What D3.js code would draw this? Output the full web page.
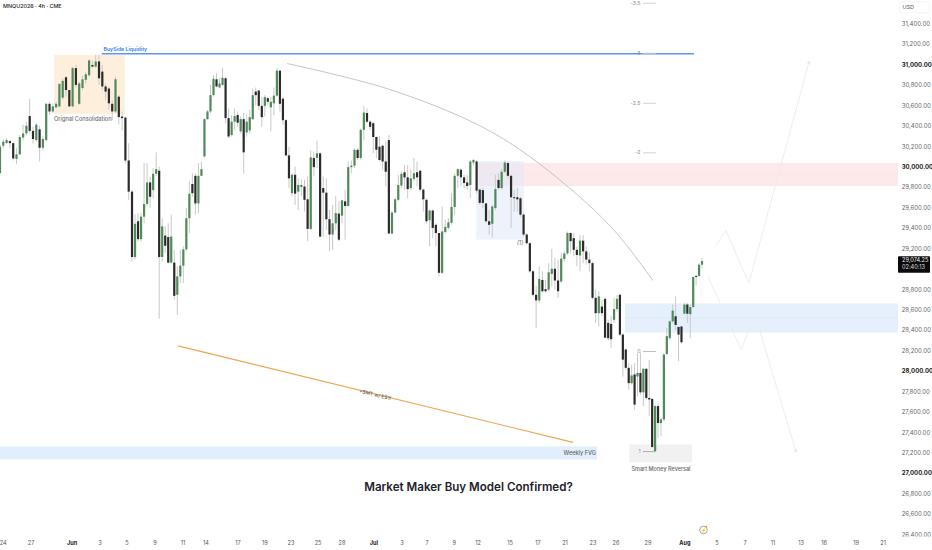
<!DOCTYPE html>
<html><head><meta charset="utf-8">
<script src="https://cdn.jsdelivr.net/npm/d3@7"></script>
<style>html,body{margin:0;padding:0;background:#fff}svg{display:block}</style>
</head><body><svg id="c" width="932" height="550"></svg>
<script>
const chartSymbol = "MNQU2026 · 4h · CME";
const chartTitle = "Market Maker Buy Model Confirmed?";
const priceTicks = [31400,31200,31000,30800,30600,30400,30200,30000,29800,29600,29400,29200,28800,28600,28400,28200,28000,27800,27600,27400,27200,27000,26800,26600,26400];
const boldPrices = [31000,30000,28000,27000];
const dateLabels = ["24","27","Jun","3","5","9","11","14","17","19","23","25","28","Jul","3","7","9","12","15","17","21","23","26","29","Aug","5","7","11","13","16","19","21"];
const dateBars = [1.03,10,23.2,32.2,40.9,49.9,58.9,66.3,76.6,85.3,93.7,102.4,110.1,120.4,129.4,137.5,146.2,153.9,164.2,173.2,181.9,190.9,198.3,208.6,220.5,230.8,239.9,248.9,257.9,265.3,275.6,284.3];
const lastPrice = "29,074.25", lastPriceValue = 29074.25, countdown = "02:40:13";
// [open, high, low, close]
const candleOHLC = [
[29935,30215,29935,30195],[30205,30270,30180,30245],[30230,30280,30225,30260],[30250,30260,30180,30230],[30230,30235,30060,30080],[30075,30180,30025,30120],[30120,30310,30115,30290],[30285,30410,30260,30325],[30325,30440,30310,30400],[30495,30665,30325,30350],
[30350,30390,30225,30270],[30260,30425,30245,30410],[30365,30400,30050,30185],[30185,30295,30155,30270],[30260,30625,30245,30615],[30615,30635,30505,30540],[30540,30620,30525,30590],[30580,30635,30570,30615],[30590,30815,30580,30810],[30675,30865,30655,30840],
[30875,30890,30685,30750],[30750,30755,30580,30590],[30590,30980,30580,30965],[30965,30995,30775,30800],[30615,30830,30605,30815],[30770,30890,30750,30855],[30850,30930,30815,30905],[30895,31050,30880,31040],[30995,31040,30965,30980],[30980,31095,30965,31030],
[31030,31095,30800,30865],[30930,30995,30750,30785],[30785,30815,30655,30735],[30765,30785,30555,30620],[30615,30655,30455,30540],[30540,30880,30525,30855],[30685,30700,30410,30485],[30490,30540,30355,30475],[30480,30490,30035,30060],[30060,30230,29675,29755],
[29755,29775,29070,29115],[29115,29530,29090,29440],[29465,29545,29265,29290],[29290,29545,29265,29510],[29510,30035,29445,29635],[29635,30035,29610,29845],[29845,29905,29595,29705],[29770,29985,29690,29930],[29930,30140,29905,29975],[29960,30000,28510,29115],
[29115,29495,29070,29415],[29325,29415,29155,29225],[29310,29445,29055,29060],[29060,29530,29055,29315],[29060,29185,28695,28735],[28745,29025,28550,28925],[28925,29185,28860,29030],[29030,29220,28860,29190],[29190,29595,29170,29495],[29495,29855,29350,29735],
[29830,29935,29705,29740],[29910,29935,29530,29640],[29640,30035,29545,29910],[29910,30050,29905,29975],[30100,30475,30090,30465],[30465,30555,30455,30540],[30540,30800,30525,30700],[30700,30895,30685,30860],[30855,30915,30775,30785],[30775,30865,30765,30815],
[30800,30970,30790,30870],[30865,30880,30425,30475],[30475,30570,30280,30295],[30310,30505,30295,30440],[30440,30570,30360,30495],[30505,30540,30390,30430],[30345,30490,30325,30465],[30465,30525,29930,30140],[30335,30505,30295,30440],[30355,30555,30325,30485],
[30465,30765,30455,30700],[30735,30775,30605,30700],[30745,30750,30555,30595],[30595,30685,30390,30485],[30595,30700,30490,30680],[30670,30685,30605,30635],[30580,30685,30345,30635],[30620,30775,30505,30695],[30695,30965,30685,30940],[30940,30945,30540,30615],
[30665,30685,30410,30455],[30455,30465,30100,30110],[30110,30195,29790,29885],[29740,29935,29710,29920],[29920,30000,29625,29735],[29755,29885,29575,29820],[29800,29875,29710,29820],[29805,29870,29560,29675],[29680,29905,29270,29390],[29390,30160,29380,30090],
[30085,30150,29905,29995],[30085,30255,29985,30130],[30130,30140,29310,29315],[29790,29905,29315,29745],[29745,29885,29380,29485],[29485,29575,29170,29335],[29335,29625,29185,29445],[29445,29715,29380,29545],[29540,29660,29270,29285],[29520,29675,29445,29670],
[29660,29775,29285,29615],[29615,30050,29610,29995],[29995,30060,29935,30010],[30010,30180,29985,30165],[30165,30180,30065,30085],[30085,30375,30065,30360],[30360,30595,30260,30530],[30525,30570,30425,30440],[30440,30455,30360,30390],[30425,30440,30130,30290],
[30290,30295,30085,30165],[30195,30295,30050,30065],[30205,30215,29970,30050],[30050,30245,29805,29950],[30260,30310,29340,29345],[29345,29565,29335,29550],[29550,29700,29545,29680],[29675,29920,29660,29820],[29815,29950,29790,29930],[29945,30015,29775,29895],
[29895,30015,29690,29780],[29790,29970,29775,29885],[29880,30085,29855,29935],[29945,30050,29805,29895],[29960,29970,29755,29775],[29775,29785,29560,29680],[29675,29690,29445,29465],[29475,29580,29220,29570],[29570,29580,29300,29400],[29430,29445,29220,29350],
[29350,29350,28925,28960],[28960,29610,28950,29365],[29360,29480,29345,29410],[29400,29495,29380,29455],[29450,29740,29430,29605],[29605,29930,29530,29910],[29910,29985,29790,29975],[29970,29985,29805,29895],[29895,29920,29790,29840],[29845,29920,29775,29810],
[29820,30065,29690,30050],[30040,30075,30015,30065],[30050,30065,29740,29765],[29775,29790,29625,29645],[29770,29790,29595,29645],[29640,29645,29445,29465],[29465,29575,29335,29430],[29440,29625,29305,29610],[29595,29920,29575,29780],[29870,29935,29775,29790],
[29790,29975,29775,29950],[29950,30060,29935,30040],[30035,30050,29885,29910],[29910,29920,29400,29700],[29700,29775,29560,29690],[29700,29790,29560,29680],[29690,29705,29510,29530],[29530,29545,29315,29335],[29335,29350,29235,29250],[29250,29260,28960,28975],
[28975,28990,28730,28745],[28745,28830,28420,28690],[28690,29025,28665,28900],[28890,28975,28765,28780],[28800,28890,28765,28780],[28795,29055,28780,28965],[28950,29195,28830,29000],[29000,29105,28795,28885],[28885,29090,28715,28780],[28875,29155,28860,29100],
[29095,29170,29070,29150],[29150,29365,29135,29350],[29350,29355,29150,29270],[29300,29350,29120,29185],[29185,29220,29025,29135],[29130,29330,28975,29275],[29275,29330,29055,29170],[29170,29220,29040,29090],[29090,29155,28975,29055],[29055,29070,28700,28715],
[28715,28795,28470,28565],[28565,28780,28435,28730],[28630,28695,28535,28565],[28705,28725,28320,28325],[28470,28500,28300,28320],[28460,28535,28225,28310],[28500,28715,28470,28605],[28605,28745,28580,28705],[28745,28760,28340,28355],[28355,28370,27945,28110],
[28210,28215,28010,28030],[28030,28075,27815,27880],[27880,28060,27865,27955],[27965,28075,27620,27670],[27945,28175,27750,27980],[27980,28180,27765,27790],[27790,28030,27655,28020],[28020,28030,27720,27735],[27735,28105,27555,27720],[27725,27735,27245,27255],
[27215,27670,27205,27655],[27655,27685,27345,27490],[27490,27540,27360,27525],[27525,28175,27505,28160],[28165,28420,28160,28340],[28320,28500,28305,28485],[28485,28650,28470,28590],[28535,28730,28400,28450],[28430,28435,28095,28355],[28435,28440,28265,28280],
[28560,28665,28550,28650],[28650,28665,28470,28560],[28555,28650,28320,28625],[28625,28925,28615,28920],[28930,28940,28835,28920],[28930,29055,28920,29040],[29040,29105,29005,29075]
];
// annotations, in [session bar, price]
const fibLevels = ["-3.5","-3","-2.5","-2","0","1"];
const fibPrices = [31600,31110,30620,30135,28190,27210];
const consolidationZone = [17.4,40.2,31093,30516];
const redZone = [153.3,289.1,30035,29810];
const redMid = 29925;
const blueZone = [201.2,289.1,28660,28375];
const blueMid = 28520;
const purpleZone = [153.3,168.7,30055,29285];
const weeklyFvg = [-1,192.2,27260,27132];
const reversalZone = [202.6,222.8,27280,27105];
const liquidityLine = [32.8,223.4,31105];
const smtLine = [[57.3,28245],[184.5,27300]];
const arcPoints = [[92.4,31010],[125,30760],[154.5,30400],[172.9,30045],[196.4,29420],[210.2,28885]];
const upForecast = [[230.2,29215],[233.7,29375],[241.1,28860],[260.5,31030]];
const downForecast = [[227.9,28925],[238.6,28210],[243.1,28545],[256.3,27205]];
const candleBarStops = [0,40,93,125,194,226];
const candleTimeStops = [0,42.5,94,126.2,195.8,226];

const W=932,H=550;
const x=d3.scaleLinear().domain([0,226]).range([0,702]);
const xc=d3.scaleLinear().domain(candleBarStops).range(candleTimeStops.map(x));
const y=d3.scaleLinear().domain([31000,27000]).range([64.5,473]);
const svg=d3.select("#c");
const font="Inter, Roboto, sans-serif";
const rect=(z,fill,op)=>svg.append("rect").attr("x",x(z[0])).attr("width",x(z[1])-x(z[0])).attr("y",y(z[2])).attr("height",y(z[3])-y(z[2])).attr("fill",fill).attr("opacity",op||1);
const text=(t,px,py,size,fill,opts={})=>svg.append("text").text(t).attr("x",px).attr("y",py).attr("font-family",font).attr("font-size",size).attr("fill",fill).attr("font-weight",opts.w||400).attr("text-anchor",opts.a||"start").attr("font-style",opts.i||"normal").attr("dominant-baseline","middle");

rect(redZone,"#fde9ea");
svg.append("line").attr("x1",x(redZone[0])).attr("x2",x(redZone[1])).attr("y1",y(redMid)).attr("y2",y(redMid)).attr("stroke","#fbe2e3").attr("stroke-width",.7);
rect(blueZone,"#e6f0fc");
svg.append("line").attr("x1",x(blueZone[0])).attr("x2",x(blueZone[1])).attr("y1",y(blueMid)).attr("y2",y(blueMid)).attr("stroke","#dbe7f8").attr("stroke-width",.7);
rect(purpleZone,"#e0e7f6",.55);
rect(consolidationZone,"#fdefdc");
rect(weeklyFvg,"#e2eefc");
rect(reversalZone,"#f1f1f1");

// candles
const gs=svg.append("g");
gs.selectAll("line").data(candleOHLC).join("line")
 .attr("x1",(d,i)=>xc(i)).attr("x2",(d,i)=>xc(i)).attr("y1",d=>y(d[1])).attr("y2",d=>y(d[2]))
 .attr("stroke","#c9c9c9").attr("stroke-width",1);
const bw=2.2;
gs.selectAll("rect").data(candleOHLC).join("rect")
 .attr("x",(d,i)=>xc(i)-bw/2).attr("width",bw)
 .attr("y",d=>y(Math.max(d[0],d[3]))).attr("height",d=>Math.max(.8,Math.abs(y(d[0])-y(d[3]))))
 .attr("fill",d=>d[3]>=d[0]?"#4f8a5a":"#2b2b2b");

// liquidity line
svg.append("line").attr("x1",x(liquidityLine[0])).attr("x2",x(liquidityLine[1])).attr("y1",y(liquidityLine[2])).attr("y2",y(liquidityLine[2])).attr("stroke","#5b97f5").attr("stroke-width",1.4);
text("BuySide Liquidity",103.5,49.7,5.2,"#3b7ded",{w:600});
text("Orignal Consolidation",54,119,5.6,"#707070",{w:500});

// arc
svg.append("path").attr("d",d3.line().x(d=>x(d[0])).y(d=>y(d[1])).curve(d3.curveCatmullRom)(arcPoints)).attr("fill","none").attr("stroke","#bdbdbd").attr("stroke-width",.9);

// orange line
svg.append("line").attr("x1",x(smtLine[0][0])).attr("y1",y(smtLine[0][1])).attr("x2",x(smtLine[1][0])).attr("y2",y(smtLine[1][1])).attr("stroke","#eea54a").attr("stroke-width",1.1);
svg.append("text").text("+SMT w/ ES1!").attr("transform","translate(375,395) rotate(13.8)").attr("text-anchor","middle").attr("dominant-baseline","middle").attr("font-family",font).attr("font-size",5).attr("fill","#444");

// fib
fibLevels.forEach((l,i)=>{
  const py=y(fibPrices[i]);
  text(l,640.5,py,5.2,"#8a8a8a",{a:"end"});
  svg.append("line").attr("x1",643).attr("x2",656).attr("y1",py).attr("y2",py).attr("stroke",i>=4?"#b5b5b5":"#cfcfcf").attr("stroke-width",i==5?1.1:.9);
});
text("(1)",520,243.5,5.8,"#707070",{a:"middle",i:"italic"});
text("Weekly FVG",596,453.5,5.6,"#666",{a:"end",w:500});
text("Smart Money Reversal",661,469,5.5,"#666",{a:"middle",w:500});
text(chartTitle,468.5,488,11.6,"#1e222d",{a:"middle",w:600});
text(chartSymbol,3,7,5.4,"#1e222d",{w:500});

// forecasts
const fl=d3.line().x(d=>x(d[0])).y(d=>y(d[1]));
[upForecast,downForecast].forEach(p=>{
  svg.append("path").attr("d",fl(p)).attr("fill","none").attr("stroke","#ebebeb").attr("stroke-width",.9);
  const a=p[p.length-1],b=p[p.length-2],ang=Math.atan2(y(a[1])-y(b[1]),x(a[0])-x(b[0]));
  [2.6,-2.6].forEach(o=>{
    svg.append("line").attr("x1",x(a[0])).attr("y1",y(a[1]))
     .attr("x2",x(a[0])-3*Math.cos(ang+o/5)).attr("y2",y(a[1])-3*Math.sin(ang+o/5))
     .attr("stroke","#dcdcdc").attr("stroke-width",.8);
  });
});

// price axis
const yAxis=svg.append("g").attr("transform","translate(901.7,0)")
 .call(d3.axisRight(y).tickValues(priceTicks).tickSize(0).tickPadding(0).tickFormat(d=>d3.format(",.2f")(d)));
yAxis.select(".domain").remove();
yAxis.selectAll("text").attr("text-anchor","start").attr("font-family",font).attr("font-size",6).attr("dy","0.32em")
 .attr("fill",d=>boldPrices.includes(d)?"#222":"#666").attr("font-weight",d=>boldPrices.includes(d)?700:400);

svg.append("rect").attr("x",0).attr("y",536.5).attr("width",W).attr("height",14).attr("fill","#fff");

// date axis
const xAxis=svg.append("g").attr("transform","translate(0,543)");
xAxis.selectAll("text").data(dateLabels).join("text").text(d=>d)
 .attr("x",(d,i)=>x(dateBars[i])).attr("y",0).attr("text-anchor","middle").attr("dominant-baseline","middle")
 .attr("font-family",font).attr("font-size",5.6)
 .attr("fill",d=>isNaN(+d)?"#222":"#555").attr("font-weight",d=>isNaN(+d)?700:400);

// last price tag
const ly=y(lastPriceValue);
svg.append("rect").attr("x",898).attr("y",ly-4.8).attr("width",32).attr("height",16.4).attr("rx",.8).attr("fill","#0b0b0b");
text(lastPrice,902,ly-0.9,5.6,"#eee");
text(countdown,902,ly+6.6,5.6,"#ddd");

// USD
svg.append("rect").attr("x",899.5).attr("y",2).attr("width",30).attr("height",11).attr("rx",2).attr("fill","#fff").attr("stroke","#efefef").attr("stroke-width",.7);
text("USD",902.5,7.7,5.4,"#555");

// flash icon
svg.append("circle").attr("cx",703.5).attr("cy",530).attr("r",3.8).attr("fill","#fff").attr("stroke","#8f8f8f").attr("stroke-width",.8);
svg.append("circle").attr("cx",706.2).attr("cy",526.8).attr("r",1).attr("fill","#f0983a");
text("⚡",703.5,530.3,4.4,"#777",{a:"middle"});
</script></body></html>
